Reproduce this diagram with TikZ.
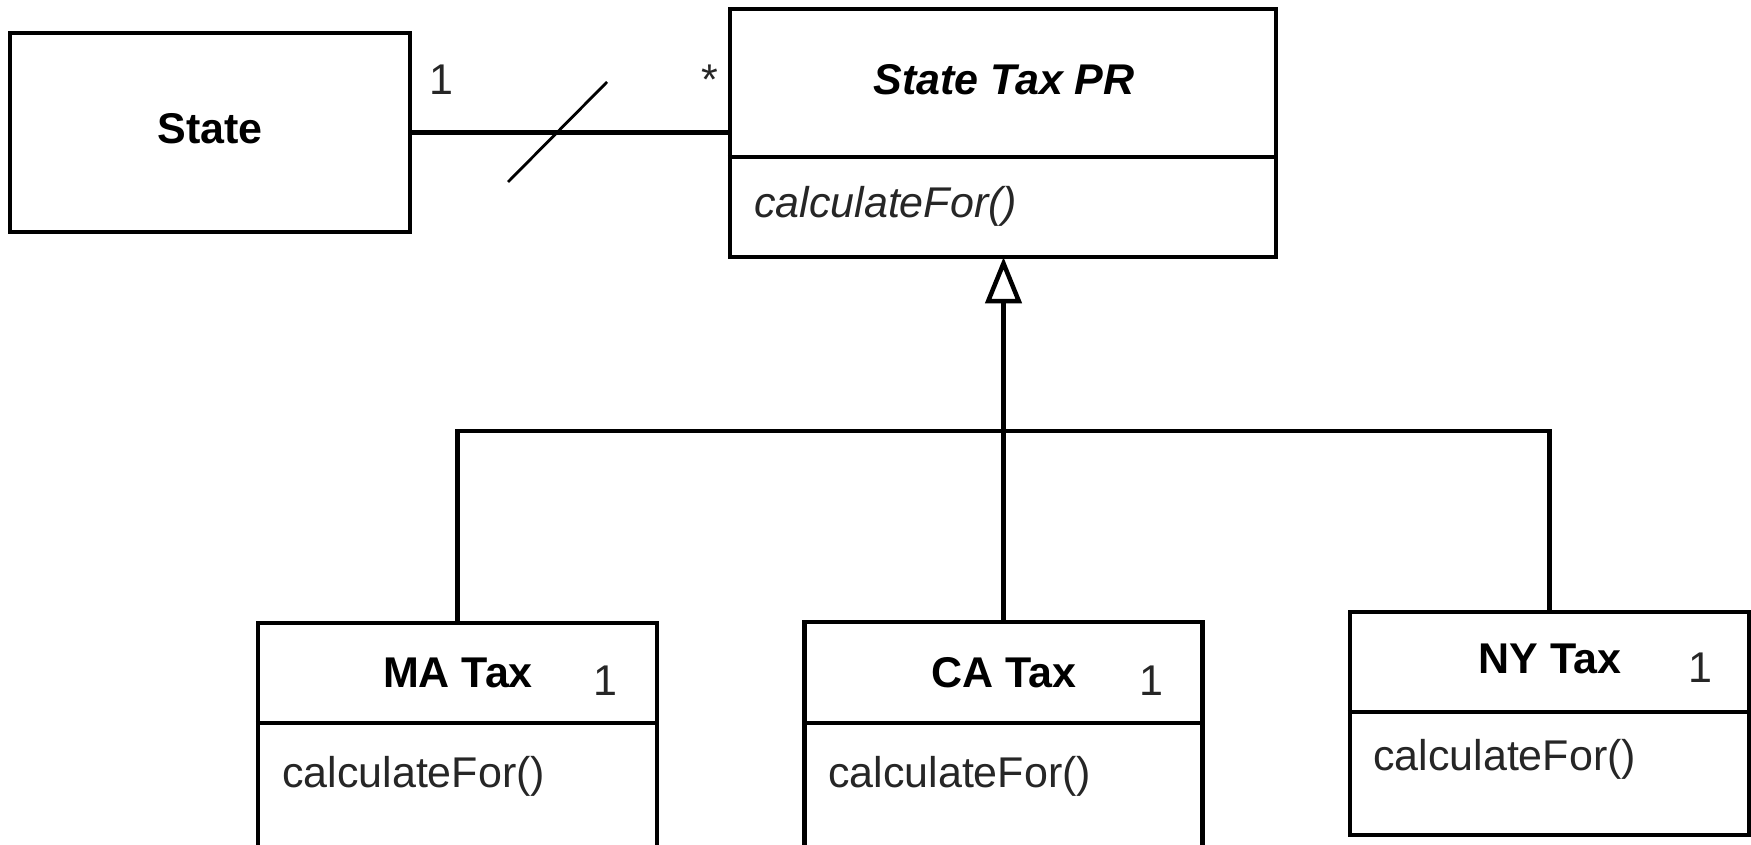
\documentclass[tikz,border=0pt]{standalone}
\usepackage{fontspec}
\setmainfont{Liberation Sans}
\usetikzlibrary{arrows.meta}
\tikzset{
  cls/.style={draw=black, line width=4.5pt, fill=white, inner sep=0pt, rectangle},
  lbl/.style={inner sep=0pt, anchor=base, font=\fontsize{43}{50}\selectfont\bfseries, text=black},
  meth/.style={inner sep=0pt, anchor=base west, font=\fontsize{43}{50}\selectfont, text=black!85},
  mult/.style={inner sep=0pt, anchor=base, font=\fontsize{43}{50}\selectfont, text=black!85},
  conn/.style={draw=black, line width=4.5pt},
}
\begin{document}
\begin{tikzpicture}[x=1pt, y=-1pt]
\useasboundingbox (0,0) rectangle (1751,845);
\clip (0,0) rectangle (1751,845);
% classes
\node[cls, minimum width=400pt, minimum height=199pt] (state) at (210,132.5) {};
\node[cls, minimum width=546pt, minimum height=248pt] (stp) at (1003,133) {};
\node[cls, minimum width=399pt, minimum height=227pt] (ma) at (457.5,736.5) {};
\node[cls, minimum width=398pt, minimum height=228pt] (ca) at (1003.5,736) {};
\node[cls, minimum width=399pt, minimum height=223pt] (ny) at (1549.5,723.5) {};
% dividers
\coordinate (dstp) at (0,157);
\coordinate (dma) at (0,723);
\coordinate (dca) at (0,723);
\coordinate (dny) at (0,712);
\draw[conn] (stp.west |- dstp) -- (stp.east |- dstp);
\draw[conn] (ma.west |- dma) -- (ma.east |- dma);
\draw[conn] (ca.west |- dca) -- (ca.east |- dca);
\draw[conn] (ny.west |- dny) -- (ny.east |- dny);
% texts
\node[lbl] (tstate) at (210,144) {State};
\node[lbl, font=\fontsize{43}{50}\selectfont\bfseries\itshape] (tstp) at (1004,95) {State Tax PR};
\node[meth, font=\fontsize{43}{50}\selectfont\itshape] (mstp) at (754,218) {calculateFor()};
\node[lbl] (tma) at (458,687) {MA Tax};
\node[mult] (nma) at (605,695) {1};
\node[meth] (mma) at (282,787) {calculateFor()};
\node[lbl] (tca) at (1004,687) {CA Tax};
\node[mult] (nca) at (1151,695) {1};
\node[meth] (mca) at (828,787) {calculateFor()};
\node[lbl] (tny) at (1550,673) {NY Tax};
\node[mult] (nny) at (1700,682) {1};
\node[meth] (mny) at (1373,770) {calculateFor()};
% association
\draw[conn] (state.east) -- (stp.west |- state.east);
\coordinate (s1) at (508,182);
\coordinate (s2) at (607,82);
\draw[line width=2.8pt] (s1) -- (s2);
\node[mult] (m1) at (441,95) {1};
\node[mult] (m2) at (710,95) {*};
% generalization
\coordinate (bar) at (0,431);
\coordinate (tip) at ([yshift=2pt]stp.south);
\draw[conn, -{Triangle[open, length=46pt, width=36pt, line width=4.5pt]}] (ca.north) -- (ca.north |- tip);
\draw[conn] (ma.north) |- (bar -| ny.north) -- (ny.north);
\end{tikzpicture}
\end{document}
